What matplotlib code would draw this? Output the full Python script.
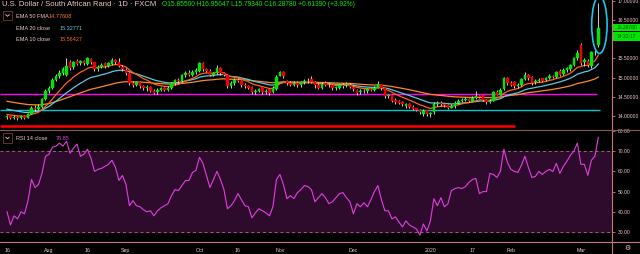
import numpy as np
import pandas as pd
import matplotlib
matplotlib.use('Agg')
import matplotlib.pyplot as plt
from matplotlib.patches import Rectangle, Ellipse
from matplotlib.lines import Line2D

# daily USD/ZAR candles, Jul 16 2019 .. Mar 9 2020 (weekdays)
opens = [13.97, 13.99, 13.95, 13.98, 13.94, 13.99, 13.95, 14.06, 14.22, 14.17,
         14.24, 14.45, 14.66, 14.72, 14.94, 15.05, 15.12, 15.08, 15.40, 15.27,
         15.44, 15.38, 15.43, 15.35, 15.48, 15.40, 15.22, 15.28, 15.37, 15.30,
         15.36, 15.45, 15.42, 15.28, 15.20, 15.12, 14.85, 14.82, 14.88, 14.78,
         14.72, 14.76, 14.66, 14.62, 14.68, 14.72, 14.69, 14.74, 14.85, 14.93,
         14.90, 15.06, 15.12, 15.08, 15.15, 15.18, 15.37, 15.22, 15.18, 15.08,
         15.12, 15.26, 15.12, 15.08, 14.78, 14.86, 14.95, 14.92, 14.82, 14.78,
         14.76, 14.62, 14.65, 14.76, 14.62, 14.70, 14.62, 14.70, 15.05, 15.15,
         14.90, 14.86, 14.82, 14.86, 14.80, 14.88, 14.92, 14.96, 14.88, 14.82,
         14.74, 14.86, 14.82, 14.82, 14.72, 14.74, 14.82, 14.80, 14.82, 14.76,
         14.68, 14.62, 14.66, 14.64, 14.70, 14.68, 14.74, 14.80, 14.72, 14.52,
         14.56, 14.42, 14.38, 14.36, 14.26, 14.30, 14.24, 14.20, 14.15, 14.04,
         14.15, 14.05, 14.10, 14.30, 14.34, 14.30, 14.28, 14.22, 14.26, 14.35,
         14.40, 14.42, 14.44, 14.40, 14.48, 14.52, 14.54, 14.42, 14.36, 14.40,
         14.63, 14.56, 14.70, 14.98, 14.86, 14.88, 14.78, 14.80, 14.96, 15.08,
         15.02, 14.88, 14.92, 14.98, 14.94, 14.98, 15.05, 15.02, 15.18, 15.10,
         15.20, 15.22, 15.32, 15.50, 15.84, 15.40, 15.44, 15.30, 15.66, 15.855]
closes = [13.99, 13.95, 13.98, 13.94, 13.99, 13.95, 14.06, 14.22, 14.17, 14.24,
          14.45, 14.66, 14.72, 14.94, 15.05, 15.12, 15.23, 15.31, 15.25, 15.40,
          15.36, 15.43, 15.38, 15.50, 15.40, 15.22, 15.27, 15.33, 15.30, 15.38,
          15.46, 15.40, 15.30, 15.22, 15.12, 14.85, 14.82, 14.88, 14.78, 14.72,
          14.76, 14.66, 14.61, 14.68, 14.72, 14.69, 14.74, 14.85, 14.93, 14.90,
          15.06, 15.12, 15.08, 15.15, 15.20, 15.37, 15.22, 15.18, 15.08, 15.12,
          15.26, 15.12, 15.08, 14.78, 14.86, 14.95, 14.92, 14.80, 14.78, 14.74,
          14.62, 14.66, 14.71, 14.62, 14.66, 14.60, 14.74, 15.02, 15.14, 15.04,
          14.86, 14.82, 14.86, 14.80, 14.88, 14.92, 14.90, 14.88, 14.80, 14.74,
          14.84, 14.82, 14.80, 14.72, 14.75, 14.80, 14.78, 14.84, 14.76, 14.70,
          14.60, 14.66, 14.64, 14.70, 14.68, 14.74, 14.84, 14.72, 14.52, 14.55,
          14.40, 14.36, 14.33, 14.30, 14.30, 14.24, 14.19, 14.15, 14.10, 14.14,
          14.04, 14.08, 14.32, 14.34, 14.30, 14.28, 14.22, 14.26, 14.35, 14.40,
          14.42, 14.44, 14.40, 14.48, 14.52, 14.50, 14.42, 14.36, 14.40, 14.63,
          14.56, 14.68, 14.98, 14.86, 14.82, 14.78, 14.82, 14.96, 15.08, 14.98,
          14.86, 14.92, 14.94, 14.92, 14.98, 15.05, 15.02, 15.14, 15.08, 15.20,
          15.24, 15.32, 15.50, 15.64, 15.38, 15.46, 15.32, 15.66, 15.674, 16.2878]
highs = [14.03, 14.01, 14.02, 14.00, 14.03, 14.02, 14.08, 14.25, 14.28, 14.30,
         14.48, 14.70, 14.78, 14.98, 15.10, 15.20, 15.28, 15.52, 15.45, 15.44,
         15.48, 15.47, 15.46, 15.53, 15.52, 15.42, 15.32, 15.38, 15.40, 15.42,
         15.52, 15.48, 15.52, 15.32, 15.25, 15.15, 14.90, 14.92, 14.90, 14.82,
         14.80, 14.78, 14.70, 14.72, 14.76, 14.76, 14.78, 14.88, 14.96, 14.98,
         15.10, 15.18, 15.20, 15.20, 15.24, 15.42, 15.40, 15.26, 15.22, 15.16,
         15.32, 15.28, 15.16, 15.10, 14.90, 14.98, 15.00, 14.95, 14.86, 14.82,
         14.78, 14.70, 14.74, 14.78, 14.70, 14.72, 14.78, 15.06, 15.18, 15.18,
         14.94, 14.90, 14.92, 14.90, 14.92, 14.96, 14.98, 15.03, 14.90, 14.85,
         14.88, 14.92, 14.86, 14.84, 14.78, 14.83, 14.86, 14.88, 14.86, 14.80,
         14.70, 14.70, 14.70, 14.74, 14.74, 14.78, 14.90, 14.82, 14.74, 14.58,
         14.58, 14.46, 14.42, 14.38, 14.34, 14.33, 14.28, 14.22, 14.18, 14.18,
         14.16, 14.10, 14.36, 14.38, 14.38, 14.34, 14.30, 14.30, 14.38, 14.44,
         14.48, 14.50, 14.48, 14.52, 14.64, 14.56, 14.56, 14.45, 14.44, 14.66,
         14.68, 14.72, 15.02, 15.02, 14.90, 14.92, 14.86, 15.00, 15.16, 15.10,
         15.04, 14.96, 14.98, 15.00, 15.02, 15.10, 15.08, 15.18, 15.22, 15.24,
         15.28, 15.36, 15.54, 15.72, 15.90, 15.50, 15.48, 15.70, 15.76, 16.95647]
lows = [13.93, 13.92, 13.93, 13.90, 13.92, 13.92, 13.94, 14.04, 14.14, 14.15,
        14.22, 14.42, 14.60, 14.70, 14.90, 15.00, 15.08, 15.05, 15.20, 15.22,
        15.32, 15.33, 15.32, 15.32, 15.36, 15.18, 15.18, 15.24, 15.26, 15.27,
        15.33, 15.36, 15.28, 15.18, 15.08, 14.80, 14.75, 14.78, 14.72, 14.68,
        14.66, 14.62, 14.57, 14.58, 14.64, 14.65, 14.66, 14.70, 14.82, 14.86,
        14.88, 15.02, 15.04, 15.04, 15.10, 15.15, 15.18, 15.14, 15.04, 15.04,
        15.10, 15.08, 15.03, 14.74, 14.74, 14.82, 14.88, 14.76, 14.74, 14.70,
        14.58, 14.58, 14.62, 14.58, 14.58, 14.55, 14.60, 14.68, 15.03, 15.00,
        14.82, 14.78, 14.78, 14.76, 14.76, 14.84, 14.86, 14.85, 14.72, 14.70,
        14.70, 14.78, 14.76, 14.68, 14.68, 14.70, 14.74, 14.76, 14.72, 14.66,
        14.56, 14.58, 14.60, 14.60, 14.64, 14.64, 14.72, 14.68, 14.48, 14.48,
        14.36, 14.32, 14.30, 14.26, 14.22, 14.20, 14.16, 14.12, 14.06, 14.00,
        14.00, 13.98, 14.06, 14.26, 14.26, 14.24, 14.18, 14.20, 14.22, 14.32,
        14.36, 14.38, 14.36, 14.38, 14.44, 14.46, 14.40, 14.32, 14.34, 14.38,
        14.54, 14.54, 14.68, 14.82, 14.78, 14.74, 14.74, 14.78, 14.94, 14.94,
        14.82, 14.84, 14.88, 14.88, 14.90, 14.96, 14.98, 15.00, 15.04, 15.06,
        15.16, 15.18, 15.30, 15.46, 15.34, 15.30, 15.28, 15.26, 15.60, 15.7934]
rsi = [40, 33.5, 38, 36.5, 40, 39, 45.5, 56, 52, 53.5,
       59, 67.5, 68.5, 72, 72.5, 74, 72.5, 75, 69, 71.5,
       73.5, 67.5, 68.5, 71, 66.5, 60, 61, 61.5, 62.5, 63.5,
       65.5, 62, 55.5, 58, 53.5, 43, 45.5, 43, 42.5, 41,
       40, 40.5, 38, 40.5, 42, 43, 44, 48, 51, 50.5,
       53, 55.5, 55.5, 59.5, 60.5, 67, 64, 58, 52, 56,
       60, 56, 51, 41.5, 43, 45.5, 49, 46, 43, 42.5,
       37, 39.5, 41.5, 40.5, 39.5, 38, 42.5, 56, 58.5, 53.5,
       46.5, 48, 46.5, 49.5, 51, 53, 52.5, 51, 45, 47,
       49, 47, 44, 45, 47, 49, 49.5, 47, 45, 39,
       44, 42.5, 44.5, 42.5, 46, 50, 53, 46, 40.5, 40.5,
       36.5, 37.5, 35, 32.5, 35.5, 33.5, 32.5, 31.5, 28.5, 34,
       30.5, 35.5, 46.5, 43, 47, 42.5, 44, 50.5, 51.5, 52,
       51.5, 52.5, 54.5, 56, 56.5, 49, 50, 50, 59, 58.5,
       57, 60, 71, 64.5, 61, 60, 59.5, 63, 67.5, 62,
       57, 57.5, 60, 58.5, 60, 61, 60, 64, 59, 62.5,
       65, 68, 70, 74, 63.5, 63.5, 58, 65.5, 67.5, 76.85]

# EMA values just before the first visible bar
ema_seeds = {50: 14.40, 20: 14.20, 10: 14.05}

# horizontal levels drawn on the chart: price, last bar index reached, colour, width
levels = [(14.57, 168.6, '#ff00ff', 1.0),
          (14.16, 169.4, '#00c8d0', 1.0),
          (13.74, 145.1, '#ff0000', 1.8)]

tick_dates = ['2019-07-16', '2019-08-01', '2019-08-16', '2019-09-02', '2019-10-01',
              '2019-10-16', '2019-11-01', '2019-12-02', '2020-01-01', '2020-01-17',
              '2020-02-03', '2020-03-02']
tick_names = ['16', 'Aug', '16', 'Sep', 'Oct', '16', 'Nov', 'Dec', '2020', '17', 'Feb', 'Mar']

price_ticks = [14.0, 14.5, 15.0, 15.5, 16.5, 17.0]
rsi_ticks = [30, 40, 50, 60, 70, 80]

dates = pd.bdate_range('2019-07-16', periods=len(closes))
x = np.arange(len(closes))

W, H = 640, 254
def fx(px): return px / W
def fy(py): return 1 - py / H

bg = '#000000'
axis_col = '#c87878'
txt_col = '#f0c8c8'

plt.rcParams['font.family'] = ['Liberation Sans', 'DejaVu Sans']
fig = plt.figure(figsize=(6.4, 2.54), dpi=100, facecolor=bg)

ax = fig.add_axes([0, fy(129), fx(612), 1 - fy(129)])
ax2 = fig.add_axes([0, fy(242), fx(612), fy(130) - fy(242)])
for a in (ax, ax2):
    a.set_facecolor(bg)
    for s in a.spines.values():
        s.set_visible(False)
    a.set_xlim(-2, 172.9)

# candles
o = np.array(opens); c = np.array(closes)
up = c >= o
cols = np.where(up, '#00e600', '#f00000')
ax.vlines(x, lows, highs, color='#f0f0f0', lw=0.6, zorder=3)
ax.bar(x, np.maximum(np.abs(c - o), 0.008), bottom=np.minimum(o, c), width=0.72,
       color=cols, edgecolor=cols, lw=0.3, zorder=4)

# EMAs
cs = pd.Series(closes)
def ema(span):
    s = pd.concat([pd.Series([ema_seeds[span]]), cs], ignore_index=True)
    return s.ewm(span=span, adjust=False).mean().iloc[1:].to_numpy()
ax.plot(x, ema(50), color='#ff8a1e', lw=0.9, zorder=2)
ax.plot(x, ema(20), color='#5ec8e0', lw=0.9, zorder=2)
ax.plot(x, ema(10), color='#ff6419', lw=0.9, zorder=2)

for lvl, end, col, lw in levels:
    ax.hlines(lvl, -2, end, color=col, lw=lw, zorder=1)

# circle round the last candle
ax.add_patch(Ellipse((x[-1] + 0.3, (highs[-1] + lows[-1]) / 2), 4.4,
                     (highs[-1] - lows[-1]) * 1.28, fill=False, ec='#19c6e6', lw=1.2, zorder=6))

ax.set_ylim(13.66, 17.026)
ax.yaxis.tick_right()
ax.set_yticks(price_ticks)
ax.set_yticklabels(['%.5f' % v for v in price_ticks])
ax.tick_params(axis='y', colors=axis_col, labelcolor=txt_col, labelsize=3.6, length=2.5,
               width=0.6, pad=1.5, direction='out')
ax.tick_params(axis='x', bottom=False, labelbottom=False)

# RSI
ax2.axhspan(30, 70, color='#2e0a2c', zorder=0)
for lv in (70, 30):
    ax2.axhline(lv, color='#a85a78', lw=0.7, ls=(0, (3, 3)), zorder=1)
ax2.plot(x, rsi, color='#e040e0', lw=0.8, zorder=3)
ax2.set_ylim(25.05, 80.5)
ax2.yaxis.tick_right()
ax2.set_yticks(rsi_ticks)
ax2.set_yticklabels(['%.2f' % v for v in rsi_ticks])
ax2.tick_params(axis='y', colors=axis_col, labelcolor=txt_col, labelsize=3.6, length=2.5,
                width=0.6, pad=1.5)
pos = [dates.get_loc(pd.Timestamp(d)) for d in tick_dates]
ax2.set_xticks(pos)
ax2.set_xticklabels(tick_names)
ax2.tick_params(axis='x', length=0, labelsize=3.8, labelcolor=txt_col, pad=4)

# frame lines
fig.add_artist(Line2D([fx(612), fx(612)], [0, 1], color=axis_col, lw=0.8))
fig.add_artist(Line2D([0, 1], [fy(242), fy(242)], color=axis_col, lw=0.8))
fig.add_artist(Line2D([0, 1], [fy(129.5), fy(129.5)], color='#8a5a5a', lw=0.8))

# header
fig.text(fx(2), fy(5), 'U.S. Dollar / South African Rand · 1D · FXCM', color=txt_col,
         fontsize=5.5, va='center')
fig.text(fx(162), fy(5), 'O15.85500 H16.95647 L15.79340 C16.28780 +0.61390 (+3.92%)',
         color='#00ee00', fontsize=4.8, va='center')

def box(y0, y1):
    fig.add_artist(Rectangle((fx(3), fy(y1)), fx(9), fy(y0) - fy(y1), fill=False,
                             ec='#7a3434', lw=0.6))
    ym = (y0 + y1) / 2
    fig.add_artist(Line2D([fx(5.8), fx(7.5), fx(9.2)], [fy(ym - 0.8), fy(ym + 0.8), fy(ym - 0.8)],
                          color=txt_col, lw=0.6))

lg = 4.0
box(11, 20)
fig.text(fx(16), fy(16), 'EMA 50 FMA', color=txt_col, fontsize=lg, va='center')
fig.text(fx(49), fy(16), '14.77608', color='#ff7a1a', fontsize=lg, va='center')
fig.text(fx(16), fy(29), 'EMA 20 close', color=txt_col, fontsize=lg, va='center')
fig.text(fx(60), fy(29), '15.32771', color='#5ec8e0', fontsize=lg, va='center')
fig.text(fx(16), fy(40), 'EMA 10 close', color=txt_col, fontsize=lg, va='center')
fig.text(fx(60), fy(40), '15.56427', color='#ff6a1a', fontsize=lg, va='center')

box(133, 143)
fig.text(fx(16), fy(138), 'RSI 14 close', color=txt_col, fontsize=lg, va='center')
fig.text(fx(56), fy(138), '76.85', color='#e040e0', fontsize=lg, va='center')

# last price tags
for y0, y1, s in [(23.5, 31, '16.28780'), (32.5, 41, '14:22:17')]:
    fig.add_artist(Rectangle((fx(613), fy(y1)), fx(27), fy(y0) - fy(y1), color='#00e600', lw=0))
    fig.text(fx(617), fy((y0 + y1) / 2), s, color='#0a4a0a', fontsize=3.6, va='center')

fig.text(fx(627), fy(248), '\u2699', color=txt_col, fontsize=5, ha='center', va='center',
         family='DejaVu Sans')

fig.savefig('out.png', dpi=100, facecolor=bg)
